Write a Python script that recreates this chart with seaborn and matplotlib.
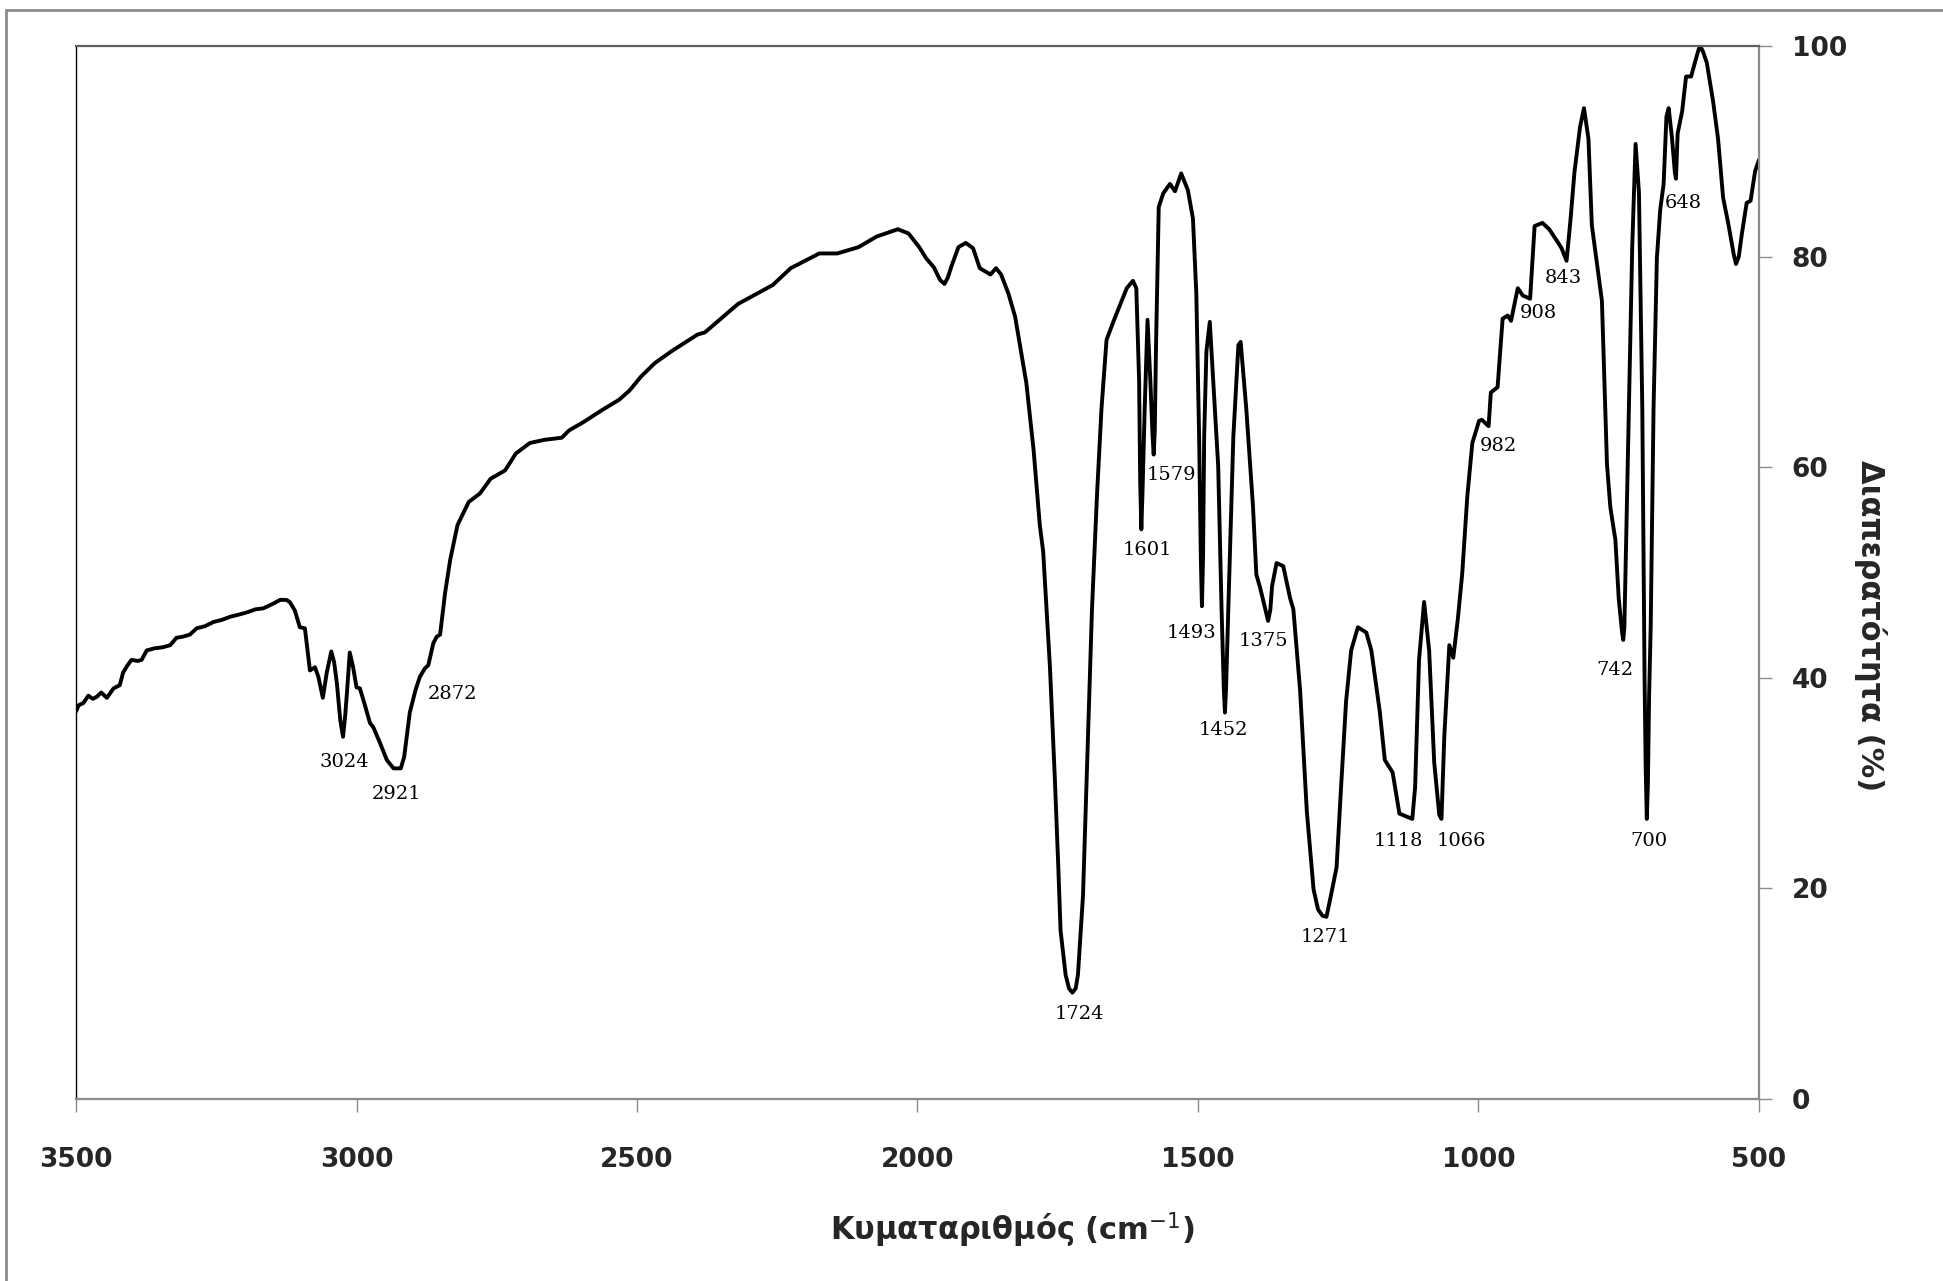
import numpy as np
import pandas as pd
import matplotlib
matplotlib.use("Agg")
import matplotlib.pyplot as plt
from matplotlib.lines import Line2D
import seaborn as sns

# FT-IR spectrum: wavenumber (cm-1) and transmittance (%)
wavenumber = [
    3500, 3495, 3487, 3478, 3470, 3463, 3455, 3445, 3433, 3422, 3416, 3408, 3401,
    3390, 3383, 3374, 3360, 3345, 3332, 3321, 3310, 3297, 3285, 3270, 3255, 3240,
    3225, 3210, 3196, 3180, 3166, 3150, 3136, 3125, 3119, 3110, 3101, 3092, 3083,
    3074, 3068, 3060, 3053, 3045, 3040, 3035, 3029, 3024, 3020, 3017, 3012, 3006,
    3000, 2994, 2985, 2976, 2970, 2958, 2946, 2934, 2921, 2915, 2905, 2895, 2887,
    2878, 2872, 2863, 2857, 2851, 2842, 2833, 2820, 2800, 2780, 2761, 2735, 2716,
    2691, 2665, 2634, 2621, 2595, 2563, 2532, 2513, 2493, 2468, 2436, 2392, 2379,
    2320, 2258, 2226, 2175, 2143, 2105, 2073, 2035, 2016, 1997, 1984, 1971, 1960,
    1952, 1946, 1940, 1927, 1914, 1901, 1889, 1870, 1860, 1851, 1838, 1826, 1806,
    1793, 1782, 1776, 1764, 1755, 1749, 1745, 1736, 1730, 1724, 1718, 1714, 1705,
    1697, 1689, 1680, 1672, 1663, 1651, 1639, 1627, 1616, 1610, 1605, 1603, 1601,
    1599, 1595, 1590, 1585, 1581, 1579, 1577, 1575, 1570, 1562, 1550, 1541, 1530,
    1518, 1509, 1503, 1498, 1495, 1493, 1491, 1489, 1485, 1479, 1473, 1464, 1458,
    1454, 1452, 1450, 1446, 1437, 1428, 1424, 1414, 1402, 1396, 1389, 1379, 1375,
    1371, 1368, 1360, 1348, 1336, 1330, 1318, 1306, 1294, 1286, 1278, 1271, 1262,
    1253, 1245, 1236, 1227, 1215, 1200, 1191, 1176, 1167, 1153, 1141, 1132, 1123,
    1118, 1113, 1106, 1097, 1088, 1079, 1070, 1066, 1061, 1052, 1045, 1037, 1029,
    1020, 1011, 999, 994, 982, 978, 966, 957, 948, 942, 930, 921, 908, 900, 886,
    874, 859, 852, 843, 836, 829, 819, 812, 804, 798, 789, 780, 771, 765, 756, 750,
    744, 742, 740, 738, 732, 726, 720, 714, 708, 704, 702, 700, 698, 696, 693, 688,
    682, 676, 670, 665, 661, 655, 650, 648, 645, 637, 630, 621, 617, 608, 605, 600,
    593, 582, 573, 564, 555, 545, 541, 536, 531, 522, 515, 507, 500,
]
transmittance = [
    36.8, 37.4, 37.6, 38.3, 38.0, 38.2, 38.6, 38.1, 39.0, 39.3, 40.5, 41.2, 41.7,
    41.6, 41.7, 42.6, 42.8, 42.9, 43.1, 43.8, 43.9, 44.1, 44.7, 44.9, 45.3, 45.5,
    45.8, 46.0, 46.2, 46.5, 46.6, 47.0, 47.4, 47.4, 47.2, 46.4, 44.8, 44.7, 40.7,
    41.0, 40.1, 38.1, 40.5, 42.5, 41.5, 39.5, 36.0, 34.4, 36.5, 38.6, 42.4, 41.0,
    39.1, 39.0, 37.4, 35.7, 35.3, 33.8, 32.2, 31.4, 31.4, 32.5, 36.7, 38.8, 40.1,
    40.9, 41.2, 43.3, 43.9, 44.1, 48.1, 51.2, 54.5, 56.7, 57.5, 58.9, 59.7, 61.3,
    62.3, 62.6, 62.8, 63.5, 64.3, 65.4, 66.4, 67.3, 68.6, 69.9, 71.1, 72.6, 72.8,
    75.5, 77.3, 78.9, 80.3, 80.3, 80.9, 81.9, 82.6, 82.2, 80.9, 79.8, 79.0, 77.8,
    77.4, 78.0, 79.0, 80.9, 81.3, 80.8, 78.9, 78.3, 78.9, 78.3, 76.5, 74.3, 68.0,
    61.6, 54.5, 52.0, 41.1, 30.2, 22.0, 16.0, 11.8, 10.5, 10.1, 10.5, 11.8, 19.3,
    32.9, 46.5, 57.4, 65.6, 72.1, 73.8, 75.4, 77.0, 77.7, 77.0, 68.3, 58.5, 54.1,
    57.5, 65.6, 74.0, 68.3, 63.0, 61.2, 63.5, 71.0, 84.7, 86.0, 86.9, 86.2, 87.9,
    86.3, 83.6, 76.5, 62.9, 51.5, 46.8, 51.5, 62.9, 71.0, 73.8, 68.3, 60.1, 46.5,
    39.0, 36.7, 39.0, 46.5, 62.9, 71.6, 71.9, 65.6, 56.3, 49.8, 48.5, 46.3, 45.4,
    46.5, 48.7, 50.9, 50.6, 47.6, 46.5, 38.8, 27.3, 19.9, 18.0, 17.4, 17.3, 19.6,
    22.0, 29.6, 37.8, 42.6, 44.8, 44.3, 42.6, 36.8, 32.2, 31.0, 27.1, 26.9, 26.7,
    26.6, 29.6, 41.7, 47.2, 42.6, 32.0, 27.0, 26.6, 34.4, 43.1, 41.9, 45.5, 49.9,
    57.2, 62.3, 64.4, 64.5, 63.9, 67.1, 67.6, 74.1, 74.4, 73.9, 77.0, 76.3, 76.0, 82.9, 83.2,
    82.6, 81.4, 80.8, 79.6, 83.5, 88.0, 92.3, 94.1, 91.2, 83.0, 79.4, 75.8, 60.3, 56.2, 53.1, 47.5,
    44.3, 43.6, 44.8, 50.0, 65.5, 80.9, 90.7, 86.1, 65.5, 40.0, 31.5, 26.6, 30.0, 38.0, 45.0, 65.5,
    79.9, 84.5, 86.9, 93.3, 94.1, 91.2, 88.0, 87.4, 91.7, 93.8, 97.1, 97.1, 97.9, 99.6, 100.0, 99.5,
    98.4, 94.8, 91.2, 85.6, 83.2, 80.2, 79.3, 80.0, 82.0, 85.1, 85.3, 88.1, 89.2,
]

# Band labels and where their text sits (wavenumber, transmittance)
band_labels = ["3024", "2921", "2872", "1724", "1601", "1579", "1493", "1452",
               "1375", "1271", "1118", "1066", "982", "908", "843", "742", "700", "648"]
label_x = [3022, 2928, 2829, 1712, 1591, 1548, 1511, 1454,
           1384, 1273, 1143, 1031, 965, 893, 849, 757, 697, 635]
label_y = [32.0, 29.0, 38.5, 8.1, 52.1, 59.3, 44.3, 35.0,
           43.5, 15.4, 24.5, 24.5, 62.0, 74.6, 78.0, 40.7, 24.5, 85.1]

x_ticks = [3500, 3000, 2500, 2000, 1500, 1000, 500]
y_ticks = [0, 20, 40, 60, 80, 100]
x_title = "Κυματαριθμός (cm$^{-1}$)"
y_title = "Διαπερατότητα (%)"

df = pd.DataFrame({"wn": wavenumber, "T": transmittance})

sns.set_theme(style="white")
plt.rcParams["font.family"] = ["DejaVu Sans"]

W, H = 1943, 1281
fig = plt.figure(figsize=(W / 100, H / 100), dpi=100)
ax = fig.add_axes([76 / W, 1 - 1099 / H, (1759 - 76) / W, (1099 - 46) / H])

sns.lineplot(data=df, x="wn", y="T", ax=ax, color="black", linewidth=2.8,
             estimator=None, sort=False)
for ln in ax.get_lines():
    ln.set_solid_joinstyle("round")
    ln.set_solid_capstyle("round")

ax.set_xlim(3500, 500)
ax.set_ylim(0, 100)
ax.set_xticks(x_ticks)
ax.set_yticks(y_ticks)
ax.set_xticklabels([str(v) for v in x_ticks], fontsize=19, fontweight="bold")
ax.set_yticklabels([str(v) for v in y_ticks], fontsize=19, fontweight="bold")
ax.yaxis.tick_right()
ax.set_xlabel("")
ax.set_ylabel("")

ax.tick_params(axis="x", direction="out", length=9.5, width=1.0, color="#8c8c8c",
               pad=25, bottom=True, top=False)
ax.tick_params(axis="y", direction="out", length=9.5, width=1.0, color="#8c8c8c",
               pad=14, right=True, left=False)

ax.spines["left"].set_color("#000000")
ax.spines["left"].set_linewidth(1.0)
ax.spines["top"].set_color("#5f5f5f")
ax.spines["top"].set_linewidth(1.6)
ax.spines["bottom"].set_color("#8c8c8c")
ax.spines["bottom"].set_linewidth(1.6)
ax.spines["right"].set_color("#8c8c8c")
ax.spines["right"].set_linewidth(1.6)
ax.grid(False)

for txt, xv, yv in zip(band_labels, label_x, label_y):
    ax.text(xv, yv, txt, ha="center", va="center", fontsize=14,
            family=["DejaVu Serif"], color="black")

fig.text(1012 / W, 1 - 1230 / H, x_title, ha="center", va="center",
         fontsize=22, fontweight="bold")
fig.text(1871 / W, 1 - 626 / H, y_title, ha="center", va="center",
         fontsize=22, fontweight="bold", rotation=270)

# outer chart frame
fig.add_artist(Line2D([6 / W, 6 / W], [0, 1 - 10 / H], transform=fig.transFigure,
                      color="#8c8c8c", linewidth=2))
fig.add_artist(Line2D([6 / W, 1], [1 - 10 / H, 1 - 10 / H], transform=fig.transFigure,
                      color="#8c8c8c", linewidth=2))

fig.savefig("out.png", dpi=100)
